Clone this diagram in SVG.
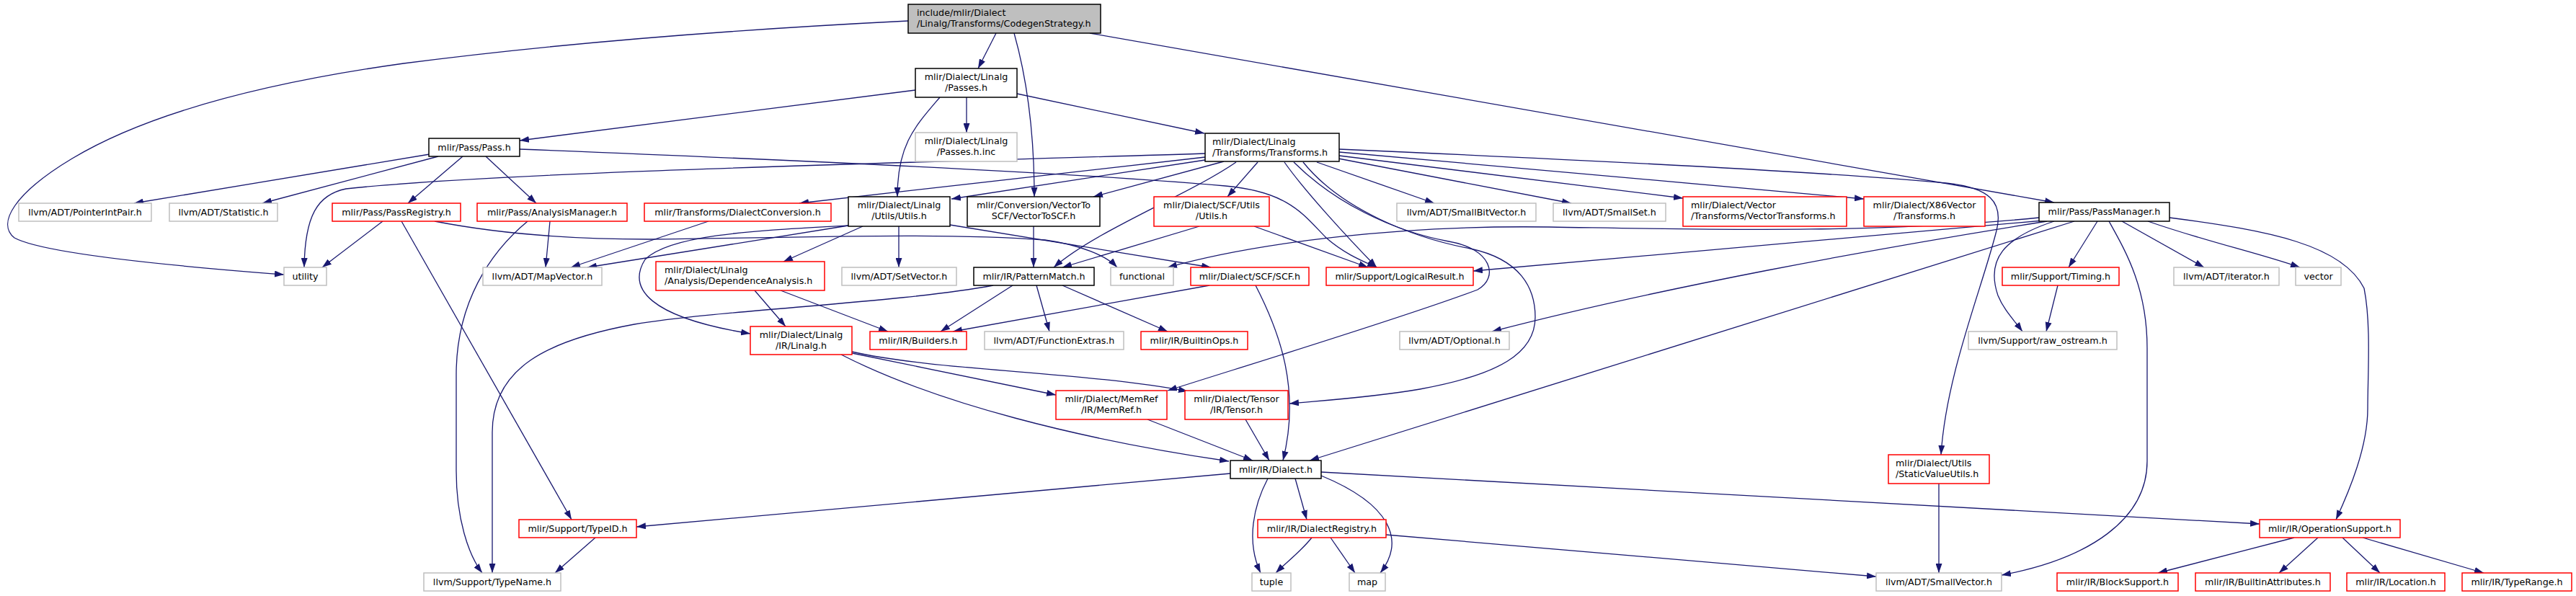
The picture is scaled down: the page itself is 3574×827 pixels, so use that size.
<svg xmlns="http://www.w3.org/2000/svg" width="3574" height="827" viewBox="0 0 3574 827">
<style>
text{font-family:"DejaVu Sans","Liberation Sans",sans-serif;font-size:12.7px;fill:#000}
.c{text-anchor:middle}
rect{fill:#fff;stroke-width:1.5}
.k rect{stroke:#000}
.r rect{stroke:#ff0000}
.g rect{stroke:#bfbfbf}
.root rect{fill:#bfbfbf;stroke:#000}
#edges path{fill:none;stroke:#191970;stroke-width:1.3;marker-end:url(#a)}
</style>
<defs>
<marker id="a" markerUnits="userSpaceOnUse" markerWidth="13" markerHeight="9" refX="13" refY="4.5" orient="auto"><path d="M0,0 L13,4.5 L0,9 z" fill="#191970"/></marker>
</defs>
<rect x="0" y="0" width="3574" height="827" fill="#fff" stroke="none"/>
<g id="edges">
<path d="M1260,29 C1000,42 760,62 560,88 C360,116 200,160 100,220 C20,268 -5,310 20,330 C60,352 250,370 394,381"/>
<path d="M1382,46 L1357,95"/>
<path d="M1407,46 C1425,110 1435,180 1435,273"/>
<path d="M1512,46 L2850,281"/>
<path d="M1270,125 L721,195"/>
<path d="M1304,135 C1270,175 1245,200 1245,273"/>
<path d="M1341,135 L1341,184"/>
<path d="M1411,130 L1671,185"/>
<path d="M596,214 L186,282"/>
<path d="M608,217 L364,282"/>
<path d="M642,217 L566,282"/>
<path d="M674,217 L744,282"/>
<path d="M721,207 C1100,222 1500,240 1700,258 C1790,266 1810,300 1840,330 C1865,352 1890,362 1910,371"/>
<path d="M531,307 L447,371"/>
<path d="M557,307 L793,721"/>
<path d="M603,307 C680,322 780,332 900,332 C1100,330 1300,322 1450,333 C1500,340 1535,355 1550,371"/>
<path d="M763,307 L757,371"/>
<path d="M732,307 C680,350 633,420 633,520 L633,653 C633,720 650,770 669,795"/>
<path d="M983,307 L792,371"/>
<path d="M1672,213 C1300,225 700,238 480,262 C440,270 423,300 422,371"/>
<path d="M1672,218 L1109,282"/>
<path d="M1672,222 L1320,276"/>
<path d="M1698,224 L1517,273"/>
<path d="M1715,225 C1650,270 1520,320 1462,371"/>
<path d="M1745,225 L1703,273"/>
<path d="M1782,225 C1810,265 1870,330 1910,371"/>
<path d="M1795,225 C1850,280 1930,320 2010,335 C2070,345 2080,385 2050,402 C1950,440 1720,510 1620,542"/>
<path d="M1808,225 C1860,290 1960,330 2040,345 C2110,360 2130,400 2130,440 C2130,490 2080,520 1970,540 C1900,552 1830,556 1789,560"/>
<path d="M1827,225 L1990,282"/>
<path d="M1857,220 L2180,282"/>
<path d="M1858,216 L2335,275"/>
<path d="M1858,211 L2586,276"/>
<path d="M1858,207 C2200,222 2550,240 2700,254 C2760,260 2780,280 2770,320 C2750,400 2700,520 2693,631"/>
<path d="M1177,313 L815,371"/>
<path d="M1177,313 C1050,320 930,325 895,360 C870,400 900,440 1041,463"/>
<path d="M1197,314 L1087,363"/>
<path d="M1247,314 L1247,371"/>
<path d="M1318,312 L1680,371"/>
<path d="M1434,314 L1434,371"/>
<path d="M1664,314 L1474,371"/>
<path d="M1740,314 L1898,371"/>
<path d="M1678,396 L1322,460"/>
<path d="M1742,396 C1775,460 1805,540 1780,639"/>
<path d="M1405,396 L1305,460"/>
<path d="M1438,396 L1456,460"/>
<path d="M1474,396 L1620,460"/>
<path d="M1378,396 C1250,420 1000,430 880,450 C760,472 683,510 683,600 L683,795"/>
<path d="M1047,403 L1090,453"/>
<path d="M1083,403 L1232,460"/>
<path d="M1182,490 L1465,548"/>
<path d="M1182,488 C1300,515 1500,515 1648,543"/>
<path d="M1167,492 C1300,560 1500,610 1705,640"/>
<path d="M1592,582 L1738,639"/>
<path d="M1728,582 L1761,639"/>
<path d="M1707,657 L883,731"/>
<path d="M1797,664 L1813,721"/>
<path d="M1759,664 C1740,700 1728,750 1749,795"/>
<path d="M1833,660 C1930,700 1950,750 1915,795"/>
<path d="M1833,655 L3135,727"/>
<path d="M1820,746 C1805,765 1785,780 1770,795"/>
<path d="M1846,746 L1880,795"/>
<path d="M1923,742 L2603,800"/>
<path d="M2690,671 L2690,795"/>
<path d="M826,746 L770,795"/>
<path d="M3183,746 L2994,795"/>
<path d="M3216,746 L3162,795"/>
<path d="M3250,746 L3302,795"/>
<path d="M3278,746 L3446,795"/>
<path d="M2829,302 C2600,325 2350,318 2150,315 C1950,312 1750,335 1620,371"/>
<path d="M2835,306 L2044,376"/>
<path d="M2840,307 C2600,345 2300,400 2070,460"/>
<path d="M2878,307 L1817,639"/>
<path d="M2850,307 C2780,330 2755,360 2772,410 C2780,430 2795,445 2806,460"/>
<path d="M2910,307 L2870,371"/>
<path d="M2944,307 L3058,371"/>
<path d="M2980,307 C3060,335 3130,350 3191,371"/>
<path d="M3010,302 C3150,320 3250,340 3280,400 C3290,450 3285,520 3285,567 C3285,620 3260,680 3241,721"/>
<path d="M2926,307 C2950,350 2979,400 2979,483 L2979,640 C2979,720 2900,775 2777,798"/>
<path d="M2855,396 L2839,460"/>
</g>
<g id="n_root" class="root"><rect x="1260" y="6" width="267" height="40"/><text x="1272" y="22">include/mlir/Dialect</text><text x="1272" y="36.5">/Linalg/Transforms/CodegenStrategy.h</text></g>
<g id="n_passes" class="k"><rect x="1270" y="95" width="141" height="40"/><text class="c" x="1340.5" y="111">mlir/Dialect/Linalg</text><text class="c" x="1340.5" y="125.5">/Passes.h</text></g>
<g id="n_passesinc" class="g"><rect x="1270" y="184" width="141" height="40"/><text class="c" x="1340.5" y="200">mlir/Dialect/Linalg</text><text class="c" x="1340.5" y="214.5">/Passes.h.inc</text></g>
<g id="n_transforms" class="k"><rect x="1672" y="185" width="186" height="39"/><text x="1682" y="201">mlir/Dialect/Linalg</text><text x="1682" y="215.5">/Transforms/Transforms.h</text></g>
<g id="n_pass" class="k"><rect x="595" y="192" width="126" height="25"/><text class="c" x="658" y="208.5">mlir/Pass/Pass.h</text></g>
<g id="n_pointerint" class="g"><rect x="26" y="282" width="184" height="25"/><text class="c" x="118" y="298.5">llvm/ADT/PointerIntPair.h</text></g>
<g id="n_statistic" class="g"><rect x="235" y="282" width="150" height="25"/><text class="c" x="310" y="298.5">llvm/ADT/Statistic.h</text></g>
<g id="n_passregistry" class="r"><rect x="461" y="282" width="178" height="25"/><text class="c" x="550" y="298.5">mlir/Pass/PassRegistry.h</text></g>
<g id="n_analysismgr" class="r"><rect x="662" y="282" width="208" height="25"/><text class="c" x="766" y="298.5">mlir/Pass/AnalysisManager.h</text></g>
<g id="n_dialectconv" class="r"><rect x="894" y="282" width="259" height="25"/><text class="c" x="1023.5" y="298.5">mlir/Transforms/DialectConversion.h</text></g>
<g id="n_linalgutils" class="k"><rect x="1177" y="273" width="141" height="41"/><text class="c" x="1247.5" y="289">mlir/Dialect/Linalg</text><text class="c" x="1247.5" y="303.5">/Utils/Utils.h</text></g>
<g id="n_vectortoscf" class="k"><rect x="1342" y="273" width="184" height="41"/><text class="c" x="1434" y="289">mlir/Conversion/VectorTo</text><text class="c" x="1434" y="303.5">SCF/VectorToSCF.h</text></g>
<g id="n_scfutils" class="r"><rect x="1601" y="273" width="160" height="41"/><text class="c" x="1681" y="289">mlir/Dialect/SCF/Utils</text><text class="c" x="1681" y="303.5">/Utils.h</text></g>
<g id="n_smallbitvector" class="g"><rect x="1938" y="282" width="193" height="25"/><text class="c" x="2034.5" y="298.5">llvm/ADT/SmallBitVector.h</text></g>
<g id="n_smallset" class="g"><rect x="2155" y="282" width="156" height="25"/><text class="c" x="2233" y="298.5">llvm/ADT/SmallSet.h</text></g>
<g id="n_vectortransforms" class="r"><rect x="2335" y="273" width="227" height="41"/><text x="2346" y="289">mlir/Dialect/Vector</text><text x="2346" y="303.5">/Transforms/VectorTransforms.h</text></g>
<g id="n_x86" class="r"><rect x="2586" y="273" width="168" height="41"/><text class="c" x="2670" y="289">mlir/Dialect/X86Vector</text><text class="c" x="2670" y="303.5">/Transforms.h</text></g>
<g id="n_passmanager" class="k"><rect x="2829" y="281" width="181" height="26"/><text class="c" x="2919.5" y="298">mlir/Pass/PassManager.h</text></g>
<g id="n_utility" class="g"><rect x="394" y="371" width="59" height="25"/><text class="c" x="423.5" y="387.5">utility</text></g>
<g id="n_mapvector" class="g"><rect x="670" y="371" width="165" height="25"/><text class="c" x="752.5" y="387.5">llvm/ADT/MapVector.h</text></g>
<g id="n_depanalysis" class="r"><rect x="910" y="363" width="234" height="40"/><text x="922" y="379">mlir/Dialect/Linalg</text><text x="922" y="393.5">/Analysis/DependenceAnalysis.h</text></g>
<g id="n_setvector" class="g"><rect x="1168" y="371" width="159" height="25"/><text class="c" x="1247.5" y="387.5">llvm/ADT/SetVector.h</text></g>
<g id="n_patternmatch" class="k"><rect x="1351" y="371" width="167" height="25"/><text class="c" x="1434.5" y="387.5">mlir/IR/PatternMatch.h</text></g>
<g id="n_functional" class="g"><rect x="1541" y="371" width="87" height="25"/><text class="c" x="1584.5" y="387.5">functional</text></g>
<g id="n_scf" class="r"><rect x="1652" y="371" width="164" height="25"/><text class="c" x="1734" y="387.5">mlir/Dialect/SCF/SCF.h</text></g>
<g id="n_logicalresult" class="r"><rect x="1840" y="371" width="204" height="25"/><text class="c" x="1942" y="387.5">mlir/Support/LogicalResult.h</text></g>
<g id="n_timing" class="r"><rect x="2778" y="371" width="162" height="25"/><text class="c" x="2859" y="387.5">mlir/Support/Timing.h</text></g>
<g id="n_iterator" class="g"><rect x="3016" y="371" width="146" height="25"/><text class="c" x="3089" y="387.5">llvm/ADT/iterator.h</text></g>
<g id="n_vector" class="g"><rect x="3185" y="371" width="63" height="25"/><text class="c" x="3216.5" y="387.5">vector</text></g>
<g id="n_linalg" class="r"><rect x="1041" y="453" width="141" height="39"/><text class="c" x="1111.5" y="469">mlir/Dialect/Linalg</text><text class="c" x="1111.5" y="483.5">/IR/Linalg.h</text></g>
<g id="n_builders" class="r"><rect x="1207" y="460" width="134" height="25"/><text class="c" x="1274" y="476.5">mlir/IR/Builders.h</text></g>
<g id="n_functionextras" class="g"><rect x="1366" y="460" width="193" height="25"/><text class="c" x="1462.5" y="476.5">llvm/ADT/FunctionExtras.h</text></g>
<g id="n_builtinops" class="r"><rect x="1583" y="460" width="148" height="25"/><text class="c" x="1657" y="476.5">mlir/IR/BuiltinOps.h</text></g>
<g id="n_optional" class="g"><rect x="1942" y="460" width="152" height="25"/><text class="c" x="2018" y="476.5">llvm/ADT/Optional.h</text></g>
<g id="n_rawostream" class="g"><rect x="2731" y="460" width="206" height="25"/><text class="c" x="2834" y="476.5">llvm/Support/raw_ostream.h</text></g>
<g id="n_memref" class="r"><rect x="1465" y="542" width="154" height="40"/><text class="c" x="1542" y="558">mlir/Dialect/MemRef</text><text class="c" x="1542" y="572.5">/IR/MemRef.h</text></g>
<g id="n_tensor" class="r"><rect x="1644" y="542" width="143" height="40"/><text class="c" x="1715.5" y="558">mlir/Dialect/Tensor</text><text class="c" x="1715.5" y="572.5">/IR/Tensor.h</text></g>
<g id="n_dialect" class="k"><rect x="1707" y="639" width="126" height="25"/><text class="c" x="1770" y="655.5">mlir/IR/Dialect.h</text></g>
<g id="n_staticvalue" class="r"><rect x="2620" y="631" width="140" height="40"/><text x="2630" y="647">mlir/Dialect/Utils</text><text x="2630" y="661.5">/StaticValueUtils.h</text></g>
<g id="n_typeid" class="r"><rect x="720" y="721" width="163" height="25"/><text class="c" x="801.5" y="737.5">mlir/Support/TypeID.h</text></g>
<g id="n_dialectregistry" class="r"><rect x="1745" y="721" width="178" height="25"/><text class="c" x="1834" y="737.5">mlir/IR/DialectRegistry.h</text></g>
<g id="n_opsupport" class="r"><rect x="3135" y="721" width="195" height="25"/><text class="c" x="3232.5" y="737.5">mlir/IR/OperationSupport.h</text></g>
<g id="n_typename" class="g"><rect x="588" y="795" width="190" height="25"/><text class="c" x="683" y="811.5">llvm/Support/TypeName.h</text></g>
<g id="n_tuple" class="g"><rect x="1737" y="795" width="54" height="25"/><text class="c" x="1764" y="811.5">tuple</text></g>
<g id="n_map" class="g"><rect x="1872" y="795" width="50" height="25"/><text class="c" x="1897" y="811.5">map</text></g>
<g id="n_smallvector" class="g"><rect x="2603" y="795" width="174" height="25"/><text class="c" x="2690" y="811.5">llvm/ADT/SmallVector.h</text></g>
<g id="n_blocksupport" class="r"><rect x="2854" y="795" width="168" height="25"/><text class="c" x="2938" y="811.5">mlir/IR/BlockSupport.h</text></g>
<g id="n_builtinattrs" class="r"><rect x="3046" y="795" width="187" height="25"/><text class="c" x="3139.5" y="811.5">mlir/IR/BuiltinAttributes.h</text></g>
<g id="n_location" class="r"><rect x="3256" y="795" width="136" height="25"/><text class="c" x="3324" y="811.5">mlir/IR/Location.h</text></g>
<g id="n_typerange" class="r"><rect x="3416" y="795" width="152" height="25"/><text class="c" x="3492" y="811.5">mlir/IR/TypeRange.h</text></g>
</svg>
